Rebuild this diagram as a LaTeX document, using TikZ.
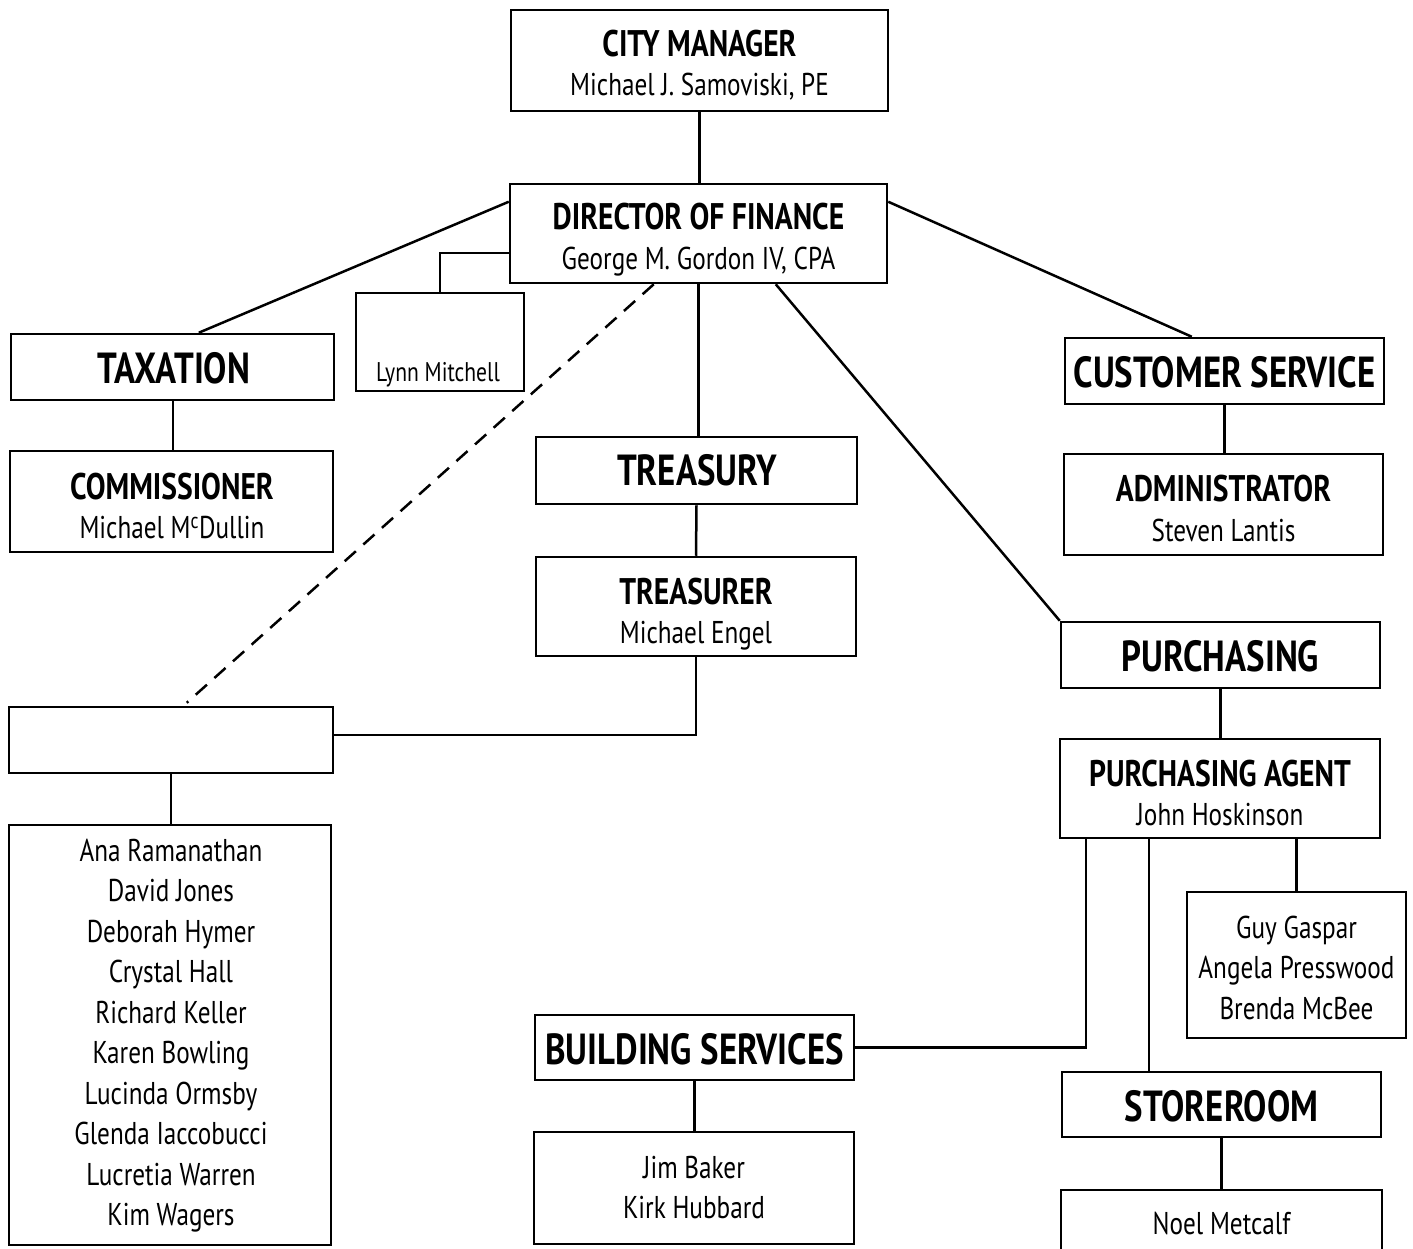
\documentclass[tikz,border=0pt]{standalone}
\usepackage{fontspec}
\setmainfont{PT Sans}[FakeStretch=0.8]
\usetikzlibrary{calc}
\newcommand{\hdfont}{\fontsize{37}{42}\selectfont\bfseries}
\newcommand{\bigfont}{\fontsize{43.5}{50}\selectfont\bfseries}
\newcommand{\nmfont}{\fontsize{31.5}{41}\selectfont}
\newcommand{\smfont}{\fontsize{27}{30}\selectfont}
\begin{document}
\begin{tikzpicture}[x=1pt,y=-1pt,
  box/.style={draw,line width=2.5pt,inner sep=0pt,fill=white},
  conn/.style={line width=2.5pt},
  hd/.style={inner sep=0pt,anchor=base,font=\hdfont},
  bg/.style={inner sep=0pt,anchor=base,font=\bigfont},
  nm/.style={inner sep=0pt,anchor=base,font=\nmfont},
  sm/.style={inner sep=0pt,anchor=base,font=\smfont}]
\useasboundingbox (0,0) rectangle (1413,1249);
\clip (0,0) rectangle (1413,1249);
% boxes
\node[box,minimum width=377pt,minimum height=101pt] (cm) at (699.5,60.5) {};
\node[box,minimum width=377pt,minimum height=99pt] (dir) at (698.5,233.5) {};
\node[box,minimum width=323pt,minimum height=66pt] (tax) at (172.5,367) {};
\node[box,minimum width=168pt,minimum height=98pt] (lynn) at (440,342) {};
\node[box,minimum width=323pt,minimum height=101pt] (comm) at (171.5,501.5) {};
\node[box,minimum width=324pt,minimum height=66pt] (blank) at (171,740) {};
\node[box,minimum width=321pt,minimum height=67pt] (treasury) at (696.5,470.5) {};
\node[box,minimum width=320pt,minimum height=99pt] (treasurer) at (696,606.5) {};
\node[box,minimum width=322pt,minimum height=420pt] (names) at (170,1035) {};
\node[box,minimum width=319pt,minimum height=66pt] (cs) at (1224.5,371) {};
\node[box,minimum width=319pt,minimum height=101pt] (admin) at (1223.5,504.5) {};
\node[box,minimum width=319pt,minimum height=66pt] (purch) at (1220.5,655) {};
\node[box,minimum width=320pt,minimum height=99pt] (pa) at (1220,788.5) {};
\node[box,minimum width=219pt,minimum height=146pt] (guy) at (1296.5,965) {};
\node[box,minimum width=319pt,minimum height=65pt] (bs) at (694.5,1047.5) {};
\node[box,minimum width=319pt,minimum height=65pt] (store) at (1221.5,1104.5) {};
\node[box,minimum width=321pt,minimum height=120pt] (noel) at (1221.5,1250) {};
\node[box,minimum width=320pt,minimum height=112pt] (jim) at (694,1188) {};
% texts
\node[hd] (cmh) at (699.5,57) {CITY MANAGER};
\node[nm] (cmn) at (699.5,96) {Michael J. Samoviski, PE};
\node[hd] (dirh) at (698.5,230) {DIRECTOR OF FINANCE};
\node[nm] (dirn) at (698.5,270) {George M. Gordon IV, CPA};
\node[bg] (taxh) at (174,383) {TAXATION};
\node[sm] (lynnt) at (438,381) {Lynn Mitchell};
\node[hd] (commh) at (172,499) {COMMISSIONER};
\node[nm] (commn) at (172,538) {Michael M\textsuperscript{c}Dullin};
\node[bg] (treash) at (697,485) {TREASURY};
\node[hd] (treash2) at (696,604) {TREASURER};
\node[nm] (treasn) at (696,643) {Michael Engel};
\node[bg] (csh) at (1224.5,387) {CUSTOMER SERVICE};
\node[hd] (adminh) at (1223.5,501) {ADMINISTRATOR};
\node[nm] (adminn) at (1223.5,541) {Steven Lantis};
\node[bg] (purchh) at (1220.5,671) {PURCHASING};
\node[hd] (pah) at (1220,786) {PURCHASING AGENT};
\node[nm] (pan) at (1220,825) {John Hoskinson};
\node[nm] (g1) at (1296.5,938) {Guy Gaspar};
\node[nm] (g2) at (1296.5,978.5) {Angela Presswood};
\node[nm] (g3) at (1296.5,1019) {Brenda McBee};
\node[bg] (bsh) at (694.5,1064) {BUILDING SERVICES};
\node[nm] (j1) at (694,1178) {Jim Baker};
\node[nm] (j2) at (694,1218) {Kirk Hubbard};
\node[bg] (storeh) at (1221.5,1121) {STOREROOM};
\node[nm] (noelt) at (1221.5,1234) {Noel Metcalf};
\foreach \t [count=\i from 0] in {Ana Ramanathan,David Jones,Deborah Hymer,Crystal Hall,Richard Keller,Karen Bowling,Lucinda Ormsby,Glenda Iaccobucci,Lucretia Warren,Kim Wagers}
  \node[nm] (n\i) at (171,861+40.5*\i) {\t};
% connectors
\draw[conn] (cm.south) -- (cm.south |- dir.north);
\draw[conn] ($(dir.north west)+(0,19)$) -- ($(tax.north west)+(189,0)$);
\draw[conn] ($(dir.west)+(0,19.5)$) -| (lynn.north);
\draw[conn] ($(dir.north east)+(0,19)$) -- ($(cs.north west)+(128,0)$);
\draw[conn] (dir.south) -- (dir.south |- treasury.north);
\draw[conn,dash pattern=on 15pt off 10pt] ($(dir.south west)+(145,0)$) -- ($(blank.north west)+(179,-3)$);
\draw[conn] ($(dir.south west)+(267,0)$) -- (purch.north west);
\draw[conn] (treasury.south) -- (treasurer.north);
\draw[conn] (treasurer.south) |- ($(blank.east)+(0,-5)$);
\draw[conn] ($(tax.south west)+(163,0)$) -- ($(comm.north west)+(164,0)$);
\draw[conn] (blank.south) -- (blank.south |- names.north);
\draw[conn] (cs.south) -- (cs.south |- admin.north);
\draw[conn] (purch.south) -- (purch.south |- pa.north);
\draw[conn] (guy.north) -- (guy.north |- pa.south);
\draw[conn] ($(pa.south west)+(27,0)$) |- (bs.east);
\draw[conn] ($(pa.south west)+(90,0)$) -- ($(store.north west)+(88,0)$);
\draw[conn] (store.south) -- (store.south |- noel.north);
\draw[conn] (bs.south) -- (bs.south |- jim.north);
\end{tikzpicture}
\end{document}
